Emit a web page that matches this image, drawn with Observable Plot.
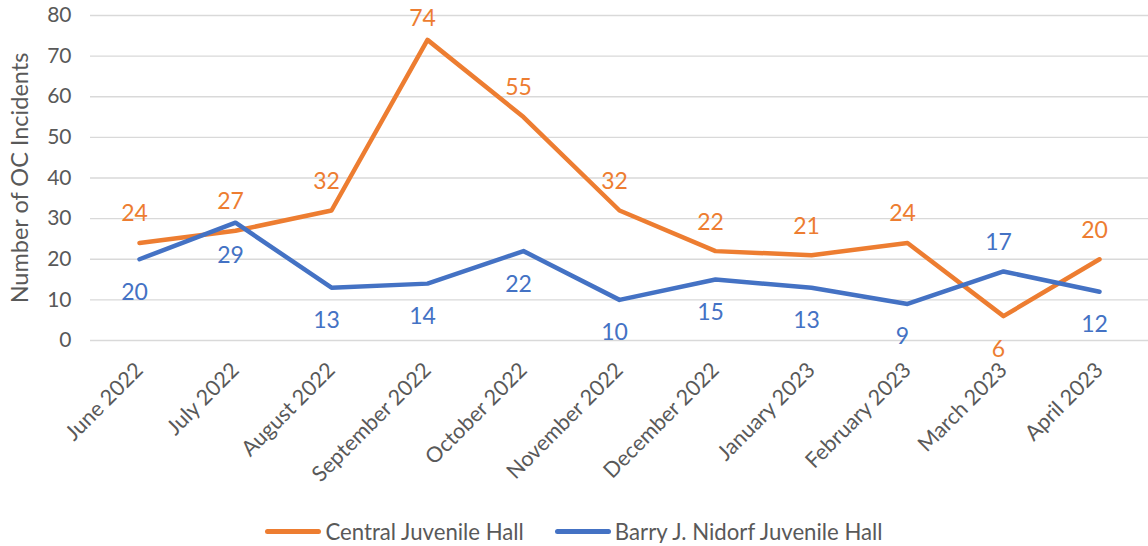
<!DOCTYPE html>
<html>
<head>
<meta charset="utf-8">
<script src="https://cdn.jsdelivr.net/npm/d3@7"></script>
<script src="https://cdn.jsdelivr.net/npm/@observablehq/plot@0.6"></script>
<style>
  html, body { margin: 0; padding: 0; background: #ffffff; }
  body { font-family: Lato, "Open Sans", sans-serif; width: 1148px; }
  #legend { display: flex; justify-content: center; align-items: center; height: 24px; margin-top: 4px;
            font-size: 22.2px; color: #595959; font-family: Lato, sans-serif; }
  .item { display: flex; align-items: center; }
  .swatch { width: 56px; height: 5px; border-radius: 3px; margin-right: 4px; }
  .gap { width: 31px; }
</style>
</head>
<body>
<div id="chart"></div>
<div id="legend"></div>
<script>
const months = ["June 2022", "July 2022", "August 2022", "September 2022", "October 2022",
  "November 2022", "December 2022", "January 2023", "February 2023", "March 2023", "April 2023"];
const central = [24, 27, 32, 74, 55, 32, 22, 21, 24, 6, 20];
const nidorf = [20, 29, 13, 14, 22, 10, 15, 13, 9, 17, 12];
const seriesNames = ["Central Juvenile Hall", "Barry J. Nidorf Juvenile Hall"];
const yTicks = [0, 10, 20, 30, 40, 50, 60, 70, 80];
const colors = ["#ED7D31", "#4472C4"];
const yTitle = "Number of OC Incidents";

const rows = [];
months.forEach((m, i) => {
  // Central labels sit above, Nidorf labels below; sides swap where Nidorf clearly exceeds Central
  const swap = nidorf[i] - central[i] > 5;
  rows.push({ month: m, series: seriesNames[0], value: central[i], above: !swap });
  rows.push({ month: m, series: seriesNames[1], value: nidorf[i], above: swap });
});
const yMax = 80;
// labels near the top of the axis are tucked closer to their point
const nearTop = d => d.value > yMax - 10;

const textColor = "#595959";
const labelOpts = { x: "month", y: "value", text: d => String(d.value), fill: "series", dx: -5, fontSize: 23 };

const chart = Plot.plot({
  width: 1148,
  height: 515,
  marginLeft: 90,
  marginRight: 0,
  marginTop: 15,
  marginBottom: 175,
  style: { fontFamily: "Lato, sans-serif", background: "#ffffff", overflow: "visible" },
  x: { type: "point", domain: months, padding: 0.5 },
  y: { domain: [0, yMax] },
  color: { domain: seriesNames, range: colors },
  marks: [
    Plot.gridY(yTicks, { stroke: "#d9d9d9", strokeOpacity: 1, strokeWidth: 1.4 }),
    Plot.axisY(yTicks, { tickSize: 0, tickPadding: 19, fontSize: 21, fill: textColor, label: null }),
    Plot.axisX({ tickRotate: -45, tickSize: 0, tickPadding: 26, fontSize: 21.5, fill: textColor, label: null }),
    Plot.text([yTitle], { frameAnchor: "left", textAnchor: "middle", rotate: -90, dx: -70, fontSize: 23.5, fill: textColor }),
    Plot.line(rows, { x: "month", y: "value", stroke: "series", z: "series", strokeWidth: 4.5,
      strokeLinejoin: "round", strokeLinecap: "round" }),
    Plot.text(rows.filter(d => d.above && !nearTop(d)), { ...labelOpts, dy: -29 }),
    Plot.text(rows.filter(d => d.above && nearTop(d)), { ...labelOpts, dy: -21 }),
    Plot.text(rows.filter(d => !d.above), { ...labelOpts, dy: 33 })
  ]
});
document.getElementById("chart").appendChild(chart);

const legend = document.getElementById("legend");
seriesNames.forEach((name, i) => {
  if (i > 0) { const g = document.createElement("div"); g.className = "gap"; legend.appendChild(g); }
  const item = document.createElement("div");
  item.className = "item";
  const sw = document.createElement("div");
  sw.className = "swatch";
  sw.style.background = colors[i];
  const label = document.createElement("span");
  label.textContent = name;
  item.appendChild(sw);
  item.appendChild(label);
  legend.appendChild(item);
});
</script>
</body>
</html>
